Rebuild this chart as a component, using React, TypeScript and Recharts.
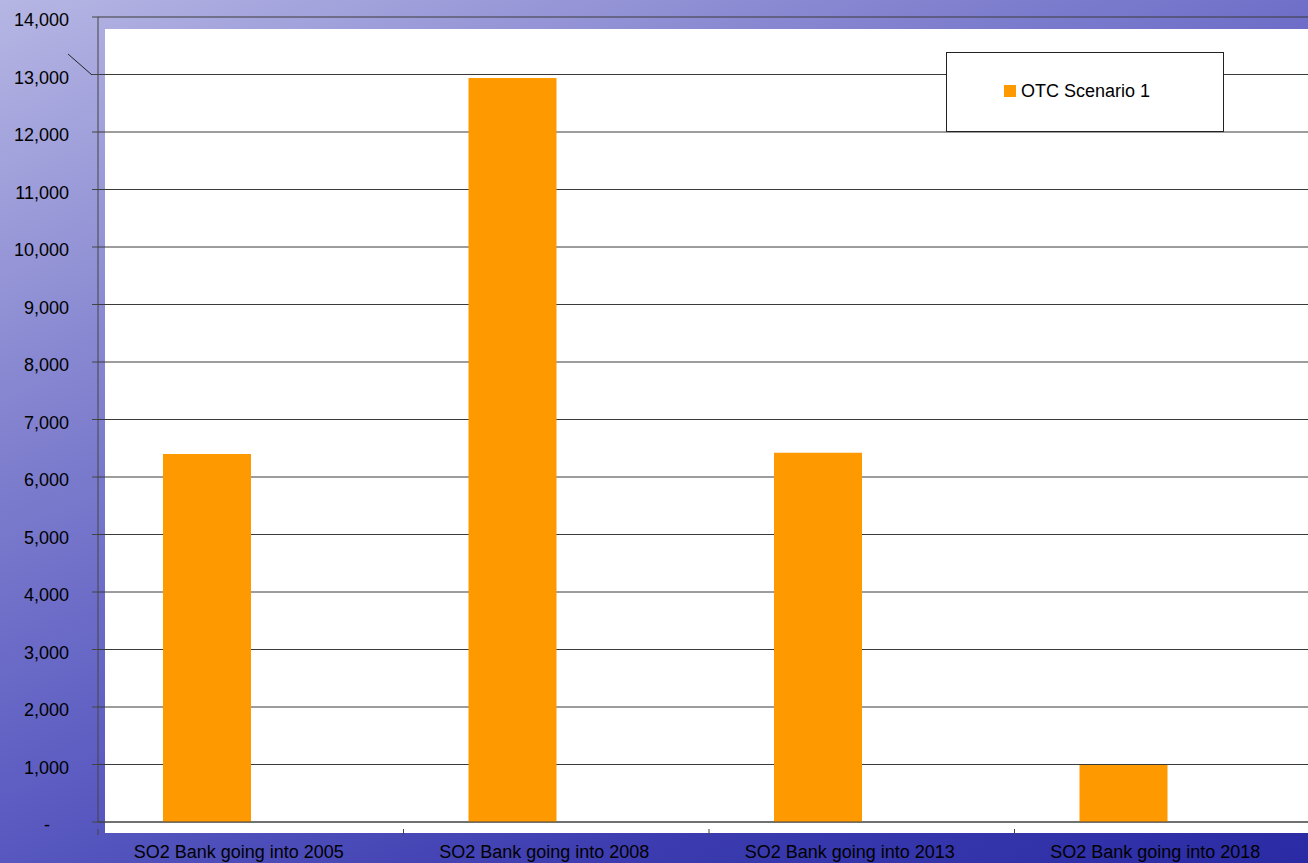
import { BarChart, Bar, XAxis, YAxis, CartesianGrid } from "recharts";

const categories = [
  "SO2 Bank going into 2005",
  "SO2 Bank going into 2008",
  "SO2 Bank going into 2013",
  "SO2 Bank going into 2018",
];
const otcScenario1 = [6400, 12940, 6420, 990];
const yTicks = [0, 1000, 2000, 3000, 4000, 5000, 6000, 7000, 8000, 9000, 10000, 11000, 12000, 13000, 14000];

const data = categories.map((name, i) => ({
  name,
  otc1: otcScenario1[i],
  blank: null,
}));

const FONT = "Arial, 'Liberation Sans', sans-serif";

const YTick = (props: any) => {
  const { x, y, payload } = props;
  const v = payload.value;
  const label = v === 0 ? "-" : v.toLocaleString("en-US");
  return (
    <text
      x={v === 0 ? x - 19 : x}
      y={y}
      dy={9}
      textAnchor="end"
      fill="#000"
      fontSize={18}
      fontFamily={FONT}
    >
      {label}
    </text>
  );
};

// Excel puts the category tick marks between categories, not under them
const XTick = (props: any) => {
  const { x, y, payload } = props;
  const edge = x - (payload.offset || 0);
  return (
    <g>
      <line x1={edge} y1={y - 1} x2={edge} y2={y + 5} stroke="#444" />
      <text
        x={x - 12}
        y={y + 28}
        textAnchor="middle"
        fill="#000"
        fontSize={18}
        fontFamily={FONT}
      >
        {payload.value}
      </text>
    </g>
  );
};

export default function App() {
  return (
    <div
      style={{
        position: "absolute",
        left: 0,
        top: 0,
        width: 1308,
        height: 863,
        overflow: "hidden",
        background:
          "linear-gradient(155deg, #b6b6e4 0%, #8484d0 28%, #5c5cc2 55%, #3c3cb0 78%, #2a2aa4 100%)",
      }}
    >
      {/* white plot panel, offset from the axes like the original */}
      <div
        style={{
          position: "absolute",
          left: 105,
          top: 29,
          width: 1210,
          height: 804,
          background: "#fff",
        }}
      />
      <svg
        width={1308}
        height={863}
        style={{ position: "absolute", left: 0, top: 0 }}
      >
        <line x1={68} y1={54} x2={92} y2={75} stroke="#222" strokeWidth={1} />
      </svg>
      <div style={{ position: "absolute", left: 0, top: 0 }}>
        <BarChart
          width={1320}
          height={863}
          data={data}
          margin={{ top: 17, right: 0, bottom: 0, left: 0 }}
          barGap={0}
          barSize={88}
        >
          <CartesianGrid vertical={false} stroke="#3a3a3a" />
          <XAxis
            dataKey="name"
            height={41}
            tickLine={false}
            stroke="#444"
            tick={<XTick />}
            interval={0}
          />
          <YAxis
            width={98}
            domain={[0, 14000]}
            ticks={yTicks}
            tickSize={6}
            tickMargin={23}
            stroke="#444"
            tick={<YTick />}
            interval={0}
          />
          <Bar dataKey="otc1" fill="#ff9900" isAnimationActive={false} />
          <Bar dataKey="blank" fill="#9999ff" isAnimationActive={false} />
        </BarChart>
      </div>
      <div
        style={{
          position: "absolute",
          left: 946,
          top: 52,
          width: 276,
          height: 78,
          background: "#fff",
          border: "1px solid #222",
          fontFamily: FONT,
          fontSize: 18,
          color: "#000",
        }}
      >
        <span
          style={{
            position: "absolute",
            left: 57,
            top: 32,
            width: 12,
            height: 12,
            background: "#ff9900",
          }}
        />
        <span style={{ position: "absolute", left: 74, top: 28, lineHeight: "20px" }}>
          OTC Scenario 1
        </span>
      </div>
    </div>
  );
}
